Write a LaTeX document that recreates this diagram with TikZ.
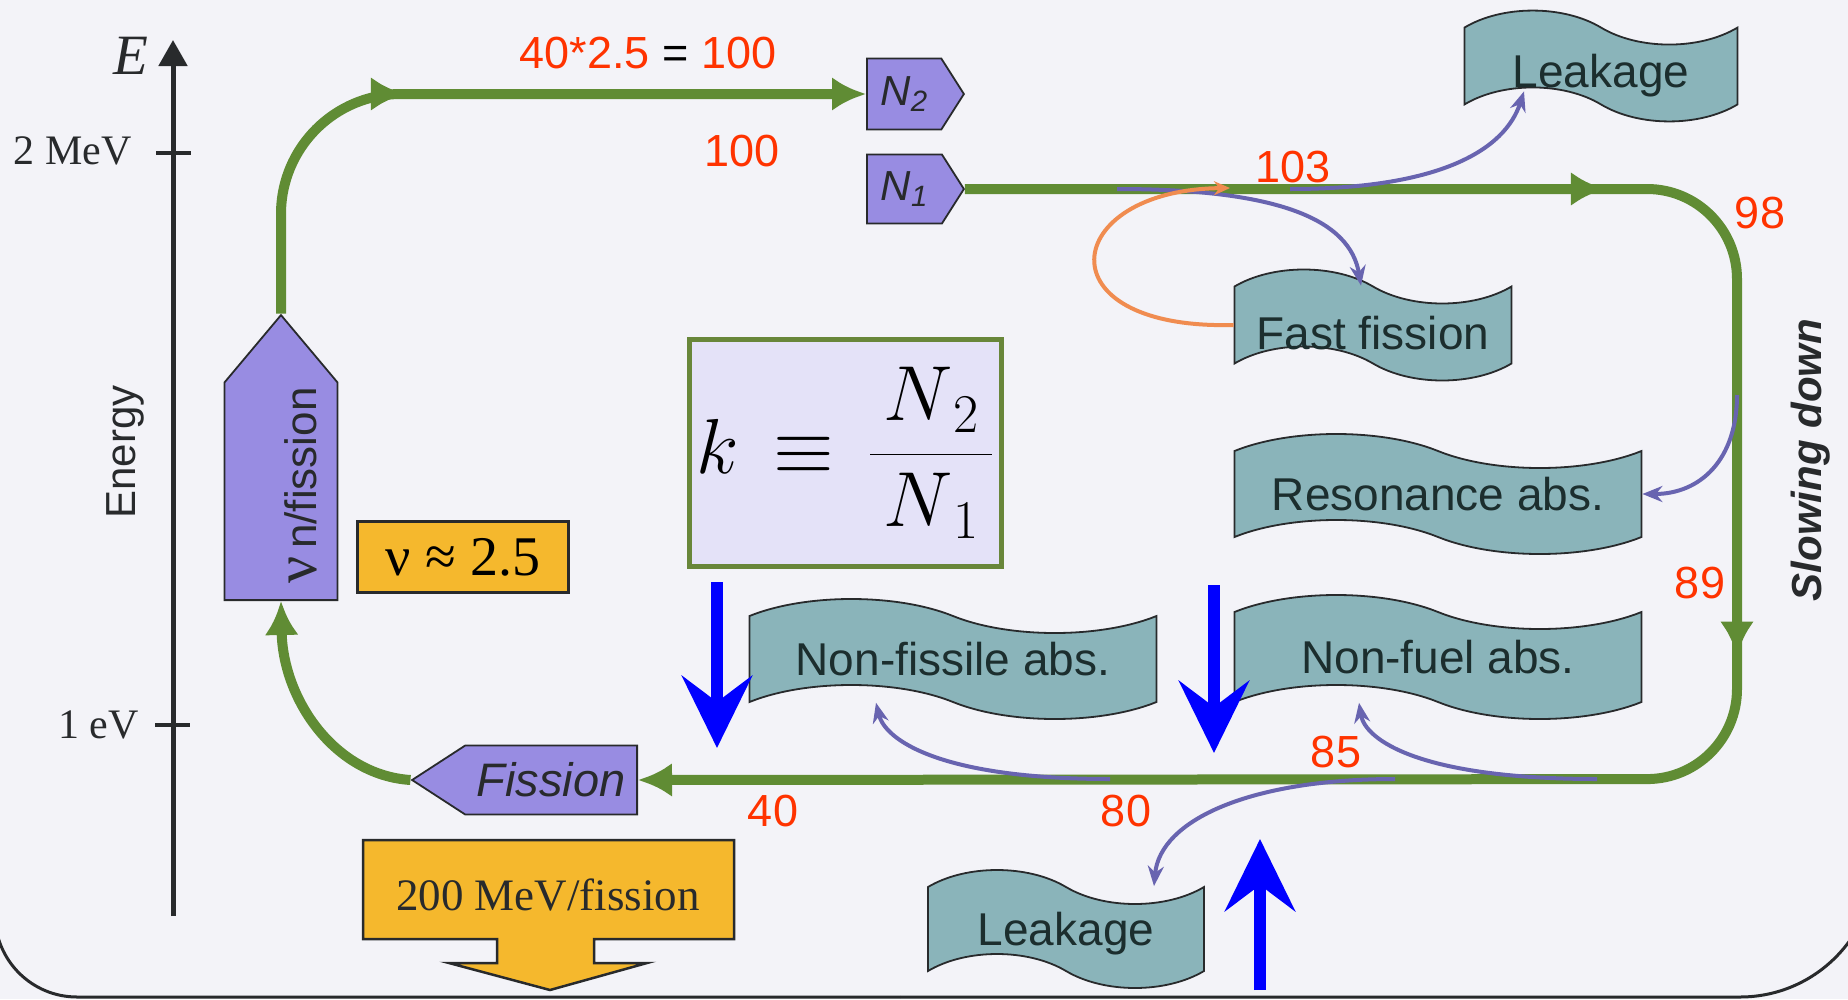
\documentclass[tikz,border=0pt]{standalone}
\usepackage{fix-cm}
\usepackage{fontspec}
\setmainfont{Liberation Serif}
\setsansfont{Liberation Sans}
\usetikzlibrary{shapes.symbols,arrows.meta,decorations.markings}

\definecolor{bgcol}{RGB}{243,243,248}
\definecolor{loopgreen}{RGB}{96,140,52}
\definecolor{bannerteal}{RGB}{138,180,186}
\definecolor{bannertext}{RGB}{28,46,46}
\definecolor{boxpurple}{RGB}{152,140,226}
\definecolor{boxorange}{RGB}{245,184,45}
\definecolor{flowpurple}{RGB}{104,100,176}
\definecolor{looporange}{RGB}{240,140,80}
\definecolor{numred}{RGB}{255,51,0}
\definecolor{kfill}{RGB}{228,226,248}
\definecolor{kframe}{RGB}{104,134,58}
\definecolor{inkdark}{RGB}{40,42,44}

\tikzset{
  banner/.style={tape, draw=inkdark, line width=1.8pt, fill=bannerteal, text=bannertext,
    font=\sffamily\fontsize{46}{46}\selectfont, inner sep=0pt,
    tape bend top=out and in, tape bend bottom=out and in, tape bend height=34pt},
  tag/.style={signal, draw=inkdark, line width=1.8pt, fill=boxpurple, text=inkdark,
    inner sep=0pt, font=\sffamily\itshape\fontsize{42}{42}\selectfont},
  orangebox/.style={draw=inkdark, line width=2.5pt, fill=boxorange, inner sep=0pt},
  num/.style={text=numred, font=\sffamily\fontsize{45}{45}\selectfont, inner sep=0pt},
  axislabel/.style={text=inkdark, font=\rmfamily\fontsize{42}{42}\selectfont, inner sep=0pt},
  mainflow/.style={draw=loopgreen, line width=10pt},
  greentip/.style={-{Latex[length=34pt,width=34pt]}},
  tipat/.style={postaction={decorate, decoration={markings,
      mark=at position #1 with {\arrow{Latex[length=34pt,width=34pt]}}}}},
  loss/.style={draw=flowpurple, line width=4pt, -{Stealth[length=20pt,width=16pt]}},
  gain/.style={draw=looporange, line width=4pt, -{Stealth[length=16pt,width=14pt]}},
  bluearrow/.style={draw=blue, line width=12pt, -{Stealth[length=72pt,width=70pt,inset=26pt]}},
}

\begin{document}
\begin{tikzpicture}[x=1pt, y=-1pt]
\fill[bgcol] (0,0) rectangle (1848,999);
\useasboundingbox (0,0) rectangle (1848,999);

% frame
\draw[inkdark, line width=3pt, rounded corners=82pt] (-5,700) -- (-5,997) -- (900,997);
\draw[inkdark, line width=3pt, rounded corners=135pt] (900,997) -- (1875,997) -- (1875,700);

% energy axis
\coordinate (axisbot) at (173,916);
\coordinate (axistop) at (173,40);
\draw[inkdark, line width=5pt, -{Triangle[length=26pt,width=28pt]}] (axisbot) -- (axistop);
\draw[inkdark, line width=4pt] (156,153) -- (191,153);
\draw[inkdark, line width=4pt] (155,725) -- (190,725);
\node[axislabel, font=\rmfamily\itshape\fontsize{57}{57}\selectfont] (elab) at (131,56) {E};
\node[axislabel, anchor=east] (mev2) at (132,151) {2 MeV};
\node[axislabel, anchor=east] (ev1) at (139,725) {1 eV};
\node[axislabel, font=\sffamily\fontsize{42}{42}\selectfont, rotate=90] (energy) at (125,452) {Energy};

% boxes
\node[tag, signal to=east, signal pointer angle=80, rotate=90, anchor=west,
  minimum width=285pt, minimum height=113pt, font=\sffamily\fontsize{44}{44}\selectfont]
  (nu) at (281,601) {\hspace*{12pt}\raisebox{-20pt}[\height][\depth]{{\rmfamily\fontsize{60}{60}\selectfont ν}\,n/fission}};
\node[orangebox, minimum width=211pt, minimum height=71pt,
  font=\rmfamily\fontsize{56}{56}\selectfont] (nuval) at (463,557) {ν ≈ 2.5};
\node[tag, signal to=east, signal pointer angle=115, anchor=west,
  minimum width=97pt, minimum height=71pt] (n2) at (866,94) {N\textsubscript{2}};
\node[tag, signal to=east, signal pointer angle=115, anchor=west,
  minimum width=97pt, minimum height=69pt] (n1) at (866,189) {N\textsubscript{1}};
\node[tag, signal to=west, signal pointer angle=66, anchor=east,
  minimum width=225pt, minimum height=69pt, font=\sffamily\itshape\fontsize{47}{47}\selectfont]
  (fission) at (638,780) {Fission\hspace{64pt}};
\node[draw=kframe, line width=5pt, fill=kfill, minimum width=312pt, minimum height=227pt,
  inner sep=0pt, font=\fontsize{78}{78}\selectfont]
  (kbox) at (845,453) {$k \mkern3mu\equiv\mkern3mu \displaystyle\frac{\,N_{\,2}\,}{\,N_{\,1}\,}$};

% 200 MeV box with its arrow
\filldraw[fill=boxorange, draw=inkdark, line width=2.5pt]
  (363,840) -- (734,840) -- (734,939) -- (594,939) -- (594,963) -- (647,963) -- (550,990)
  -- (449,963) -- (497,963) -- (497,939) -- (363,939) -- cycle;
\node[font=\rmfamily\fontsize{45}{45}\selectfont, text=inkdark] (mev) at (548,895) {200 MeV/fission};

% banners
\node[banner, minimum width=273pt, minimum height=104pt] (leaktop) at (1601,66)
  {\raisebox{-10pt}[\height][\depth]{Leakage}};
\node[banner, minimum width=277pt, minimum height=111pt] (fastfis) at (1373,325)
  {\raisebox{-8pt}[\height][\depth]{Fast fission}};
\node[banner, minimum width=407pt, minimum height=120pt] (resabs) at (1438,494) {Resonance abs.};
\node[banner, minimum width=407pt, minimum height=124pt] (nonfuel) at (1438,657) {Non-fuel abs.};
\node[banner, minimum width=407pt, minimum height=120pt] (nonfiss) at (953,659) {Non-fissile abs.};
\node[banner, minimum width=276pt, minimum height=118pt] (leakbot) at (1066,929)
  {\raisebox{-5pt}[\height][\depth]{Leakage}};

\node[rotate=90, text=inkdark, font=\sffamily\bfseries\itshape\fontsize{42}{42}\selectfont]
  (slow) at (1811,460) {Slowing down};

% neutron cycle
\draw[mainflow, greentip, rounded corners=120pt, tipat=292pt] (nu.east) -- (281,94) -- (n2.west);
\draw[mainflow, greentip, rounded corners=90pt, tipat=640pt, tipat=1200pt]
  (n1.east) -- (1737,189) -- (1737,779) -- (fission.east);
\draw[mainflow, greentip] (fission.west) .. controls (335,775) and (283,700) .. (nu.west);

% losses
\coordinate (fl1) at (1117,189);
\coordinate (fl2) at (1290,189);
\coordinate (fl3) at (1737,395);
\coordinate (fl4) at (1597,779);
\coordinate (fl5) at (1110,779);
\coordinate (fl6) at (1395,779);
\coordinate (fl7) at (1230,188);
\draw[loss] (fl2) .. controls (1440,189) and (1505,150) .. ([xshift=-77pt,yshift=14pt]leaktop.south);
\draw[loss] (fl1) .. controls (1280,189) and (1350,220) .. ([xshift=-12pt]fastfis.north);
\draw[gain] (fastfis.west) .. controls (1040,330) and (1060,190) .. (fl7);
\draw[loss] (fl3) .. controls (1737,460) and (1700,494) .. (resabs.east);
\draw[loss] (fl4) .. controls (1420,779) and (1365,740) .. ([xshift=-79pt]nonfuel.south);
\draw[loss] (fl5) .. controls (940,779) and (885,740) .. ([xshift=-77pt]nonfiss.south);
\draw[loss] (fl6) .. controls (1250,779) and (1160,820) .. ([xshift=88pt]leakbot.north);

% counts
\node[num] (eqn) at (648,53) {40*2.5 \textcolor{black}{=} 100};
\node[num] (c100) at (742,151) {100};
\node[num] (c103) at (1293,167) {103};
\node[num] (c98) at (1760,213) {98};
\node[num] (c89) at (1700,583) {89};
\node[num] (c85) at (1336,752) {85};
\node[num] (c80) at (1126,811) {80};
\node[num] (c40) at (773,811) {40};

% blue markers
\coordinate (b1s) at (717,582);
\coordinate (b1e) at (717,748);
\coordinate (b2s) at (1214,585);
\coordinate (b2e) at (1214,753);
\coordinate (b3s) at (1260,990);
\coordinate (b3e) at (1260,839);
\draw[bluearrow] (b1s) -- (b1e);
\draw[bluearrow] (b2s) -- (b2e);
\draw[bluearrow] (b3s) -- (b3e);

\end{tikzpicture}
\end{document}
